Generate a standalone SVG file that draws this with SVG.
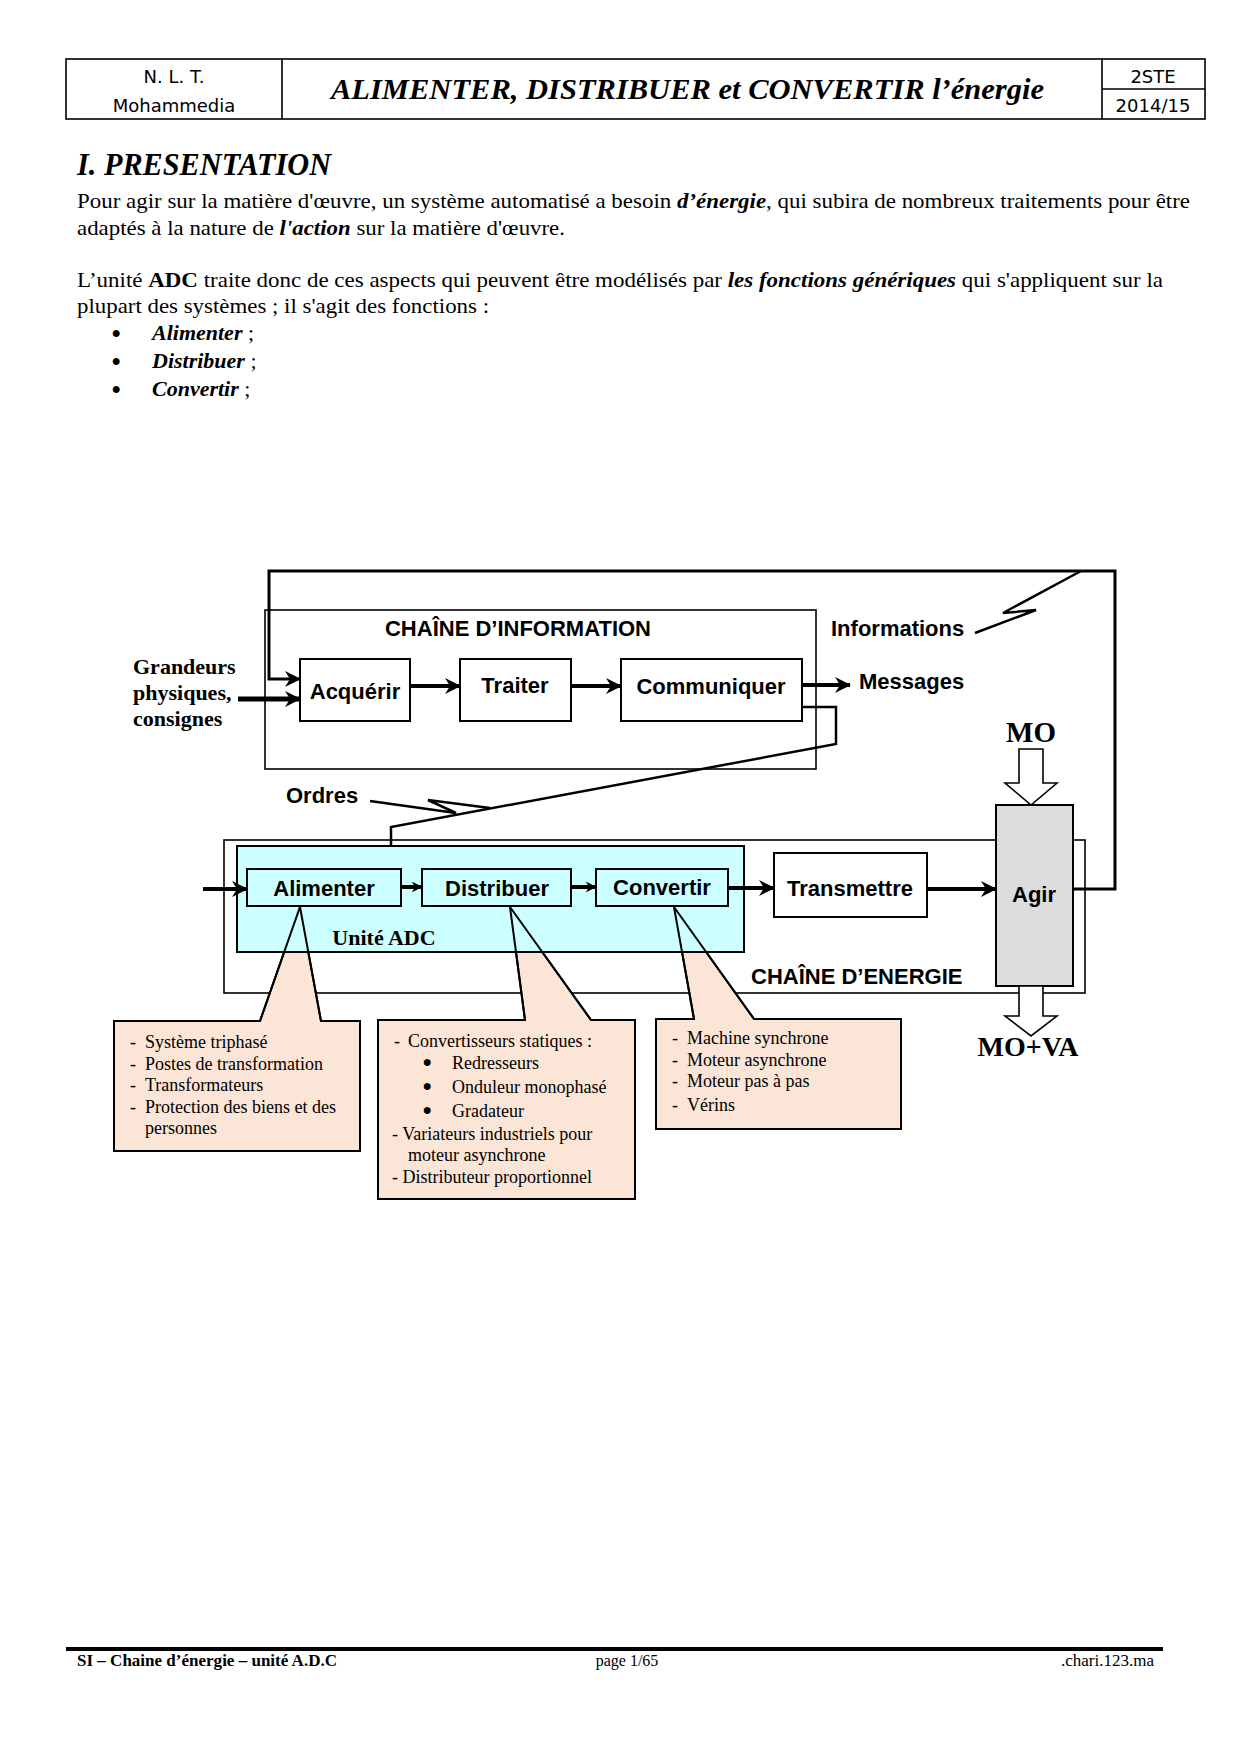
<svg xmlns="http://www.w3.org/2000/svg" width="1240" height="1754" viewBox="0 0 1240 1754">
<style>
.hd{font-family:"DejaVu Sans","Liberation Sans",sans-serif;font-size:18px;text-anchor:middle}
.ser{font-family:"Liberation Serif","Times New Roman",serif}
.p{font-family:"Liberation Serif","Times New Roman",serif;font-size:22px}
.bi{font-weight:bold;font-style:italic}
.b{font-weight:bold}
.ar{font-family:"Liberation Sans",Arial,sans-serif;font-weight:bold;font-size:22px}
.arc{font-family:"Liberation Sans",Arial,sans-serif;font-weight:bold;font-size:22px;text-anchor:middle}
.tb{font-family:"Liberation Serif","Times New Roman",serif;font-weight:bold;font-size:22px}
.co{font-family:"Liberation Serif","Times New Roman",serif;font-size:18px}
.bul{font-family:"Liberation Sans",Arial,sans-serif;font-size:24px;font-weight:bold}
.box{fill:#fff;stroke:#000;stroke-width:2}
.cbox{fill:#CCFFFF;stroke:#000;stroke-width:2}
.frame{fill:none;stroke:#000;stroke-width:1.6}
.call{fill:#FBE5D6;stroke:#000;stroke-width:2}
.ln{fill:none;stroke:#000;stroke-width:3}
.thick{fill:none;stroke:#000;stroke-width:4}
.hollow{fill:#fff;stroke:#000;stroke-width:1.6}
</style>
<defs>
<marker id="ah" viewBox="0 0 16 16" markerUnits="userSpaceOnUse" markerWidth="16" markerHeight="16" refX="15" refY="8" orient="auto">
<path d="M0,0 L16,8 L0,16 L5,8 Z" fill="#000"/>
</marker>
<marker id="ahs" viewBox="0 0 16 16" markerUnits="userSpaceOnUse" markerWidth="11" markerHeight="11" refX="15" refY="8" orient="auto">
<path d="M0,0 L16,8 L0,16 L5,8 Z" fill="#000"/>
</marker>
</defs>
<rect width="1240" height="1754" fill="#fff"/>

<g id="header">
<rect x="66" y="59" width="1139" height="60" class="frame"/>
<line x1="282" y1="59" x2="282" y2="119" stroke="#000" stroke-width="1.6"/>
<line x1="1102" y1="59" x2="1102" y2="119" stroke="#000" stroke-width="1.6"/>
<line x1="1102" y1="89" x2="1205" y2="89" stroke="#000" stroke-width="1.6"/>
<text x="174" y="83" class="hd">N. L. T.</text>
<text x="174" y="112" class="hd">Mohammedia</text>
<text x="1153" y="83" class="hd">2STE</text>
<text x="1153" y="112" class="hd">2014/15</text>
<text x="331" y="99" class="ser bi" font-size="30" textLength="713" lengthAdjust="spacingAndGlyphs">ALIMENTER, DISTRIBUER et CONVERTIR l’énergie</text>
</g>

<g id="presentation">
<text x="77" y="175" class="ser bi" font-size="31" textLength="254" lengthAdjust="spacingAndGlyphs">I. PRESENTATION</text>
<text x="77" y="208" class="p" textLength="1113" lengthAdjust="spacingAndGlyphs">Pour agir sur la matière d'œuvre, un système automatisé a besoin <tspan class="bi">d’énergie</tspan>, qui subira de nombreux traitements pour être</text>
<text x="77" y="235" class="p" textLength="488" lengthAdjust="spacingAndGlyphs">adaptés à la nature de <tspan class="bi">l'action</tspan> sur la matière d'œuvre.</text>
<text x="77" y="287" class="p" textLength="1086" lengthAdjust="spacingAndGlyphs">L’unité <tspan class="b">ADC</tspan> traite donc de ces aspects qui peuvent être modélisés par <tspan class="bi">les fonctions génériques</tspan> qui s'appliquent sur la</text>
<text x="77" y="313" class="p" textLength="412" lengthAdjust="spacingAndGlyphs">plupart des systèmes ; il s'agit des fonctions :</text>
<text x="112" y="341" class="bul">•</text>
<text x="152" y="340" class="p"><tspan class="bi">Alimenter</tspan> ;</text>
<text x="112" y="369" class="bul">•</text>
<text x="152" y="368" class="p"><tspan class="bi">Distribuer</tspan> ;</text>
<text x="112" y="397" class="bul">•</text>
<text x="152" y="396" class="p"><tspan class="bi">Convertir</tspan> ;</text>
</g>

<g id="chaine-information">
<rect x="265" y="610" width="551" height="159" class="frame"/>
<text x="518" y="636" class="arc">CHAÎNE D’INFORMATION</text>
</g>
<g id="chaine-energie">
<rect x="224" y="840" width="861" height="153" class="frame"/>
<text x="751" y="984" class="ar">CHAÎNE D’ENERGIE</text>
</g>

<g id="callout-alimenter">
<path d="M114,1021 H260 L300,907 L321,1021 H360 V1151 H114 Z" class="call"/>
</g>
<g id="callout-distribuer">
<path d="M378,1020 H525 L510,907 L591,1020 H635 V1199 H378 Z" class="call"/>
</g>
<g id="callout-convertir">
<path d="M656,1019 H694 L674,907 L754,1019 H901 V1129 H656 Z" class="call"/>
</g>

<g id="unite-adc">
<rect x="237" y="846" width="507" height="106" class="cbox"/>
<text x="384" y="945" class="tb" text-anchor="middle">Unité ADC</text>
</g>

<g id="callout-pointers">
<polyline points="260,1021 300,907 321,1021" fill="none" stroke="#000" stroke-width="2"/>
<polyline points="525,1020 510,907 591,1020" fill="none" stroke="#000" stroke-width="2"/>
<polyline points="694,1019 674,907 754,1019" fill="none" stroke="#000" stroke-width="2"/>
</g>

<g id="callout-texts" class="co">
<text x="130" y="1048">-</text><text x="145" y="1048">Système triphasé</text>
<text x="130" y="1070">-</text><text x="145" y="1070">Postes de transformation</text>
<text x="130" y="1091">-</text><text x="145" y="1091">Transformateurs</text>
<text x="130" y="1113">-</text><text x="145" y="1113">Protection des biens et des</text>
<text x="145" y="1134">personnes</text>
<text x="394" y="1047">-</text><text x="408" y="1047">Convertisseurs statiques :</text>
<text x="423" y="1070" class="bul" font-size="20">•</text><text x="452" y="1069">Redresseurs</text>
<text x="423" y="1094" class="bul" font-size="20">•</text><text x="452" y="1093">Onduleur monophasé</text>
<text x="423" y="1118" class="bul" font-size="20">•</text><text x="452" y="1117">Gradateur</text>
<text x="392" y="1140">- Variateurs industriels pour</text>
<text x="408" y="1161">moteur asynchrone</text>
<text x="392" y="1183">- Distributeur proportionnel</text>
<text x="672" y="1044">-</text><text x="687" y="1044">Machine synchrone</text>
<text x="672" y="1066">-</text><text x="687" y="1066">Moteur asynchrone</text>
<text x="672" y="1087">-</text><text x="687" y="1087">Moteur pas à pas</text>
<text x="672" y="1111">-</text><text x="687" y="1111">Vérins</text>
</g>

<g id="acquerir"><rect x="300" y="659" width="110" height="62" class="box"/><text x="355" y="699" class="arc">Acquérir</text></g>
<g id="traiter"><rect x="460" y="659" width="111" height="62" class="box"/><text x="515" y="693" class="arc">Traiter</text></g>
<g id="communiquer"><rect x="621" y="659" width="181" height="62" class="box"/><text x="711" y="694" class="arc">Communiquer</text></g>

<g id="alimenter"><rect x="247" y="869" width="154" height="37" class="cbox"/><text x="324" y="896" class="arc">Alimenter</text></g>
<g id="distribuer"><rect x="422" y="869" width="149" height="37" class="cbox"/><text x="497" y="896" class="arc">Distribuer</text></g>
<g id="convertir"><rect x="596" y="869" width="132" height="37" class="cbox"/><text x="662" y="895" class="arc">Convertir</text></g>
<g id="transmettre"><rect x="774" y="853" width="153" height="64" class="box"/><text x="850" y="896" class="arc">Transmettre</text></g>
<g id="agir"><rect x="996" y="805" width="77" height="181" fill="#DDDDDD" stroke="#000" stroke-width="2"/><text x="1034" y="902" class="arc">Agir</text></g>

<g id="labels">
<text x="133" y="674" class="tb">Grandeurs</text>
<text x="133" y="700" class="tb">physiques,</text>
<text x="133" y="726" class="tb">consignes</text>
<text x="831" y="636" class="ar">Informations</text>
<text x="859" y="689" class="ar">Messages</text>
<text x="286" y="803" class="ar">Ordres</text>
<text x="1031" y="742" class="ser b" font-size="29" text-anchor="middle">MO</text>
<text x="1028" y="1056" class="ser b" font-size="28" text-anchor="middle">MO+VA</text>
</g>

<g id="connectors">
<line x1="238" y1="699" x2="300" y2="699" stroke="#000" stroke-width="5" marker-end="url(#ah)"/>
<line x1="410" y1="686" x2="460" y2="686" class="thick" marker-end="url(#ah)"/>
<line x1="571" y1="686" x2="621" y2="686" class="thick" marker-end="url(#ah)"/>
<line x1="802" y1="685" x2="850" y2="685" class="thick" marker-end="url(#ah)"/>
<polyline points="1073,889 1115,889 1115,571 269,571 269,679 300,679" class="ln" marker-end="url(#ah)"/>
<polyline points="975,633 1036,610 1003,613 1081,571" fill="none" stroke="#000" stroke-width="2.5"/>
<polyline points="802,707 836,707 836,744 391,827 391,846" fill="none" stroke="#000" stroke-width="2.5"/>
<polyline points="370,801 456,813 428,800 490,808" fill="none" stroke="#000" stroke-width="2.5"/>
<line x1="203" y1="889" x2="247" y2="889" class="thick" marker-end="url(#ah)"/>
<line x1="401" y1="887" x2="422" y2="887" class="thick" marker-end="url(#ahs)"/>
<line x1="571" y1="887" x2="596" y2="887" class="thick" marker-end="url(#ahs)"/>
<line x1="728" y1="888" x2="774" y2="888" class="thick" marker-end="url(#ah)"/>
<line x1="927" y1="889" x2="996" y2="889" class="thick" marker-end="url(#ah)"/>
<polygon points="1019,749 1043,749 1043,783 1057,783 1031,805 1005,783 1019,783" class="hollow"/>
<polygon points="1019,986 1043,986 1043,1016 1057,1016 1031,1036 1005,1016 1019,1016" class="hollow"/>
</g>

<g id="footer">
<line x1="66" y1="1649" x2="1163" y2="1649" stroke="#000" stroke-width="4"/>
<text x="77" y="1666" class="ser b" font-size="16" textLength="260" lengthAdjust="spacingAndGlyphs">SI – Chaine d’énergie – unité  A.D.C</text>
<text x="627" y="1666" class="ser" font-size="16" text-anchor="middle">page 1/65</text>
<text x="1154" y="1666" class="ser" font-size="17" text-anchor="end">.chari.123.ma</text>
</g>
</svg>
